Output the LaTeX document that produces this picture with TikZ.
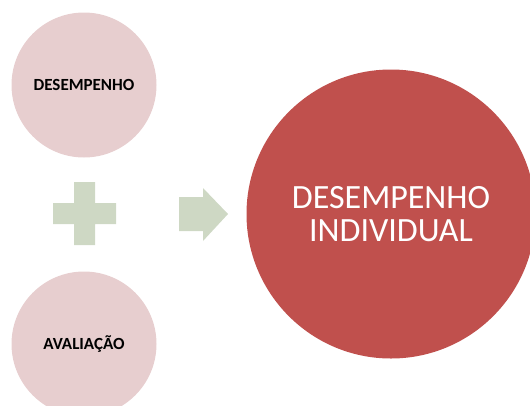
\documentclass[tikz,border=0pt]{standalone}
\usepackage{fontspec}
\setmainfont{Carlito}
\definecolor{pinkfill}{RGB}{231,206,207}
\definecolor{redfill}{RGB}{192,80,77}
\definecolor{signfill}{RGB}{206,216,196}
\tikzset{
    part/.style={circle,fill=pinkfill,minimum size=145pt,inner sep=0pt,
        font=\fontsize{17}{20}\selectfont\bfseries},
    total/.style={circle,fill=redfill,minimum size=289pt,inner sep=0pt,
        text=white,align=center,font=\fontsize{34}{33}\selectfont},
    sign/.style={fill=signfill}
}

\begin{document}
\begin{tikzpicture}[x=1pt,y=-1pt]
            \useasboundingbox (0,0) rectangle (530,405);
            \clip (0,0) rectangle (530,405);
            \node[part] (perf) at (84,85) {DESEMPENHO};
            \node[part] (eval) at (84,344) {AVALIAÇÃO};
            \node[total] (indiv) at (391,214) {DESEMPENHO\\INDIVIDUAL};
            % plus sign
            \coordinate (plus) at (84.5,213.5);
            \fill[sign,shift={(plus)}] (-31.5,-10.5) rectangle (31.5,10.5)
                (-10.5,-31.5) rectangle (10.5,31.5);
            % arrow
            \coordinate (arrow) at (179,214);
            \fill[sign,shift={(arrow)}] (0,-17) -- (24,-17) -- (24,-26) -- (49,0)
                -- (24,27) -- (24,17) -- (0,17) -- cycle;
        \end{tikzpicture}
\end{document}
